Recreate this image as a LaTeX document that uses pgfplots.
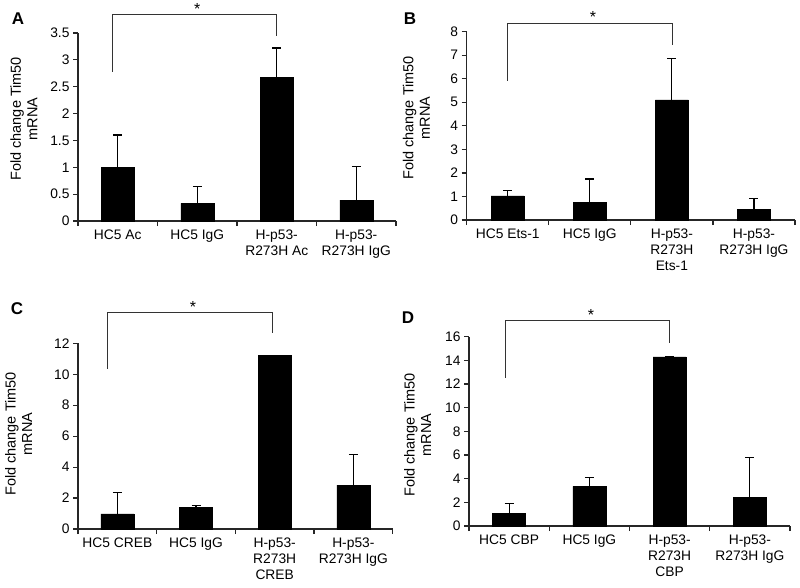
\documentclass[border=0pt]{standalone}
\usepackage{fontspec}
\setmainfont{Liberation Sans}
\usepackage{pgfplots}
\usepackage{pgfplotstable}
\pgfplotsset{compat=1.18}

\pgfplotstableread{
x y e
0 1.00 0.60
1 0.33 0.31
2 2.68 0.54
3 0.39 0.63
}\dataA
\pgfplotstableread{
x y e
0 1.02 0.22
1 0.75 0.99
2 5.10 1.77
3 0.46 0.45
}\dataB
\pgfplotstableread{
x y e
0 0.97 1.39
1 1.40 0.11
2 11.23 0
3 2.84 1.96
}\dataC
\pgfplotstableread{
x y e
0 1.05 0.85
1 3.35 0.72
2 14.30 0
3 2.45 3.35
}\dataD

\pgfplotsset{
  panel/.style={
    scale only axis,
    anchor=south west,
    clip=false,
    axis x line*=bottom,
    axis y line*=left,
    axis line style={line width=1.2pt,black!85},
    xmin=-0.5, xmax=3.5, ymin=0,
    xtick={0,1,2,3},
    major x tick style={draw=none},
    minor xtick={-0.5,0.5,1.5,2.5,3.5},
    minor tick length=5pt,
    major tick length=5pt,
    tick align=outside,
    every tick/.style={line width=1.2pt,black!85},
    xticklabel style={align=center,font=\fontsize{13.8}{16}\selectfont},
    yticklabel style={font=\fontsize{13.8}{16}\selectfont},
    ylabel={Fold change Tim50\\mRNA},
    ylabel style={align=center,font=\fontsize{14.5}{16.5}\selectfont,anchor=center},
    /pgf/number format/assume math mode=true,
  },
  bars/.style={
    ybar, bar width=33pt, fill=black, draw=black,
    error bars/.cd, y dir=plus, y explicit,
    error bar style={line width=1.2pt,black},
    error mark options={rotate=90,line width=1.2pt,mark size=4.5pt,black},
  },
}

\begin{document}
\begin{tikzpicture}
\path[use as bounding box] (0pt,0pt) rectangle (800pt,-588pt);

% A
\begin{axis}[panel, at={(78pt,-221pt)}, width=318pt, height=188pt,
  ymax=3.5, ytick={0,0.5,...,3.5},
  yticklabels={0,0.5,1,1.5,2,2.5,3,3.5},
  xticklabels={HC5 Ac, HC5 IgG, H-p53-\\R273H Ac, H-p53-\\R273H IgG},
  ylabel style={at={(axis description cs:-0.170,0.543)}}]
\addplot[bars] table[x=x,y=y,y error=e] {\dataA};
\draw[line width=0.9pt,black!80] (axis cs:-0.07,2.78) |- (axis cs:1.99,3.84) -- (axis cs:1.99,3.44);
\node[anchor=base,inner sep=0pt,font=\fontsize{16}{16}\selectfont] at (axis cs:1.0,3.84) {*};
\end{axis}

% B
\begin{axis}[panel, at={(466.7pt,-220pt)}, width=328.3pt, height=188.3pt,
  ymax=8, ytick={0,1,...,8},
  xticklabels={HC5 Ets-1, HC5 IgG, H-p53-\\R273H\\Ets-1, H-p53-\\R273H IgG},
  ylabel style={at={(axis description cs:-0.153,0.542)}}]
\addplot[bars] table[x=x,y=y,y error=e] {\dataB};
\draw[line width=0.9pt,black!80] (axis cs:0.0,5.91) |- (axis cs:2.01,8.37) -- (axis cs:2.01,7.45);
\node[anchor=base,inner sep=0pt,font=\fontsize{16}{16}\selectfont] at (axis cs:1.04,8.37) {*};
\end{axis}

% C
\begin{axis}[panel, at={(78pt,-529pt)}, width=314.7pt, height=185.7pt,
  ymax=12, ytick={0,2,...,12},
  xticklabels={HC5 CREB, HC5 IgG, H-p53-\\R273H\\CREB, H-p53-\\R273H IgG},
  ylabel style={at={(axis description cs:-0.189,0.512)}}]
\addplot[bars] table[x=x,y=y,y error=e] {\dataC};
\draw[line width=0.9pt,black!80] (axis cs:-0.12,10.34) |- (axis cs:1.97,13.98) -- (axis cs:1.97,12.65);
\node[anchor=base,inner sep=0pt,font=\fontsize{16}{16}\selectfont] at (axis cs:0.96,13.98) {*};
\end{axis}

% D
\begin{axis}[panel, at={(469pt,-526pt)}, width=321pt, height=189.3pt,
  ymax=16, ytick={0,2,...,16},
  xticklabels={HC5 CBP, HC5 IgG, H-p53-\\R273H\\CBP, H-p53-\\R273H IgG},
  ylabel style={at={(axis description cs:-0.160,0.481)}}]
\addplot[bars] table[x=x,y=y,y error=e] {\dataD};
\draw[line width=0.9pt,black!80] (axis cs:-0.04,12.54) |- (axis cs:2.0,17.36) -- (axis cs:2.0,15.5);
\node[anchor=base,inner sep=0pt,font=\fontsize{16}{16}\selectfont] at (axis cs:1.02,17.36) {*};
\end{axis}

\begin{scope}[every node/.style={font=\bfseries\fontsize{17}{17}\selectfont,anchor=center}]
\node at (18pt,-19pt) {A};
\node at (410pt,-19pt) {B};
\node at (17pt,-309pt) {C};
\node at (408pt,-318pt) {D};
\end{scope}
\end{tikzpicture}
\end{document}
